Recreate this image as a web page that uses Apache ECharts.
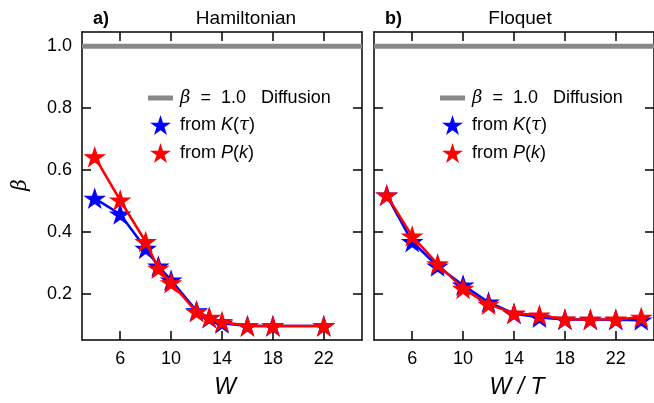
<!DOCTYPE html>
<html>
<head>
<meta charset="utf-8">
<script src="https://cdn.jsdelivr.net/npm/echarts@6/dist/echarts.min.js"></script>
<style>
html,body{margin:0;padding:0;background:#fff;}
#chart{width:654px;height:403px;}
</style>
</head>
<body>
<div id="chart"></div>
<script>
// ---- data ----
const hamW = [4, 6, 8, 9, 10, 12, 13, 14, 16, 18, 22];
const hamK = [0.509, 0.458, 0.347, 0.290, 0.245, 0.146, 0.123, 0.106, 0.097, 0.097, 0.097];
const hamP = [0.643, 0.503, 0.369, 0.283, 0.236, 0.143, 0.125, 0.111, 0.097, 0.097, 0.097];
const floW = [4, 6, 8, 10, 12, 14, 16, 18, 20, 22, 24];
const floK = [0.519, 0.369, 0.290, 0.229, 0.174, 0.137, 0.125, 0.118, 0.118, 0.117, 0.116];
const floP = [0.519, 0.387, 0.297, 0.218, 0.167, 0.138, 0.132, 0.119, 0.118, 0.119, 0.125];
const diffusionBeta = 1.0;
const xTicks = [6, 10, 14, 18, 22];
const yTicks = [0.2, 0.4, 0.6, 0.8, 1.0];
const xMin = 3, xMax = 25;
const yMin = 0.052, yMax = 1.046;
const nameDiff = 'β = 1.0 Diffusion';
const nameK = 'from K(τ)';
const nameP = 'from P(k)';

const FONT = 'Liberation Sans, Arial, Helvetica, sans-serif';
const STAR = 'path://M50,0 L61.23,34.55 L97.55,34.55 L68.16,55.9 L79.39,90.45 L50,69.1 L20.61,90.45 L31.84,55.9 L2.45,34.55 L38.77,34.55 Z';
const BAR = 'path://M0,0 L25,0 L25,5 L0,5 Z';

function zip(xs, ys) { return xs.map((x, i) => [x, ys[i]]); }

const axisLine = { show: true, onZero: false, lineStyle: { color: '#000', width: 1.5 } };
function xAx(grid, pos, labels) {
  return {
    type: 'value', gridIndex: grid, position: pos, min: xMin, max: xMax,
    axisLine: axisLine,
    axisTick: { show: true, inside: true, length: 9, customValues: xTicks, lineStyle: { color: '#000', width: 1.5 } },
    axisLabel: { show: labels, customValues: xTicks, color: '#000', fontSize: 18, fontFamily: FONT, margin: 10 },
    splitLine: { show: false }
  };
}
function yAx(grid, pos, labels) {
  return {
    type: 'value', gridIndex: grid, position: pos, min: yMin, max: yMax,
    axisLine: axisLine,
    axisTick: { show: true, inside: true, length: 9, customValues: yTicks, lineStyle: { color: '#000', width: 1.5 } },
    axisLabel: { show: labels, customValues: yTicks, color: '#000', fontSize: 18, fontFamily: FONT, margin: 10,
      formatter: v => v.toFixed(1) },
    splitLine: { show: false }
  };
}

function starSeries(name, xi, yi, W, V, color, z) {
  return { name: name, type: 'line', xAxisIndex: xi, yAxisIndex: yi, data: zip(W, V),
    symbol: STAR, symbolSize: 19, symbolKeepAspect: true,
    itemStyle: { color: color, borderColor: color, borderWidth: 1.2 },
    lineStyle: { color: color, width: 2.5 }, z: z };
}

function seriesFor(xi, yi, W, K, P) {
  return [
    { name: nameDiff, type: 'line', xAxisIndex: xi, yAxisIndex: yi,
      data: [[xMin, diffusionBeta], [xMax, diffusionBeta]], symbol: 'none',
      itemStyle: { color: '#888888' }, lineStyle: { color: '#888888', width: 5 }, z: 2 },
    starSeries(nameK, xi, yi, W, K, '#0000ff', 3),
    starSeries(nameP, xi, yi, W, P, '#ff0000', 4)
  ];
}

function legendAt(left) {
  return {
    orient: 'vertical', left: left, top: 84, itemWidth: 25, itemHeight: 20, itemGap: 8,
    selectedMode: false,
    data: [
      { name: nameDiff, icon: BAR, itemStyle: { borderWidth: 0 } },
      { name: nameK, icon: STAR, itemStyle: { borderWidth: 0 } },
      { name: nameP, icon: STAR, itemStyle: { borderWidth: 0 } }
    ],
    formatter: function (n) {
      if (n === nameDiff) return '{g|β}  =  1.0   Diffusion';
      if (n === nameK) return 'from {i|K}({g|τ})';
      return 'from {i|P}({i|k})';
    },
    textStyle: {
      color: '#000', fontSize: 18, fontFamily: FONT, padding: [0, 0, 0, 2],
      rich: {
        i: { fontStyle: 'italic', fontSize: 18, fontFamily: FONT, color: '#000' },
        g: { fontStyle: 'italic', fontSize: 18, fontFamily: 'DejaVu Serif, serif', color: '#000' }
      }
    }
  };
}

const chart = echarts.init(document.getElementById('chart'), null, { renderer: 'canvas' });
chart.setOption({
  animation: false,
  backgroundColor: '#fff',
  grid: [
    { left: 82, top: 32, width: 280, height: 308 },
    { left: 374, top: 32, width: 280, height: 308 }
  ],
  xAxis: [xAx(0, 'bottom', true), xAx(0, 'top', false), xAx(1, 'bottom', true), xAx(1, 'top', false)],
  yAxis: [yAx(0, 'left', true), yAx(0, 'right', false), yAx(1, 'left', false), yAx(1, 'right', false)],
  legend: [legendAt(143), legendAt(435)],
  series: [].concat(seriesFor(0, 0, hamW, hamK, hamP), seriesFor(2, 2, floW, floK, floP)),
  graphic: [
    { type: 'text', x: 93, y: 19, style: { text: 'a)', fontSize: 18, fontWeight: 'bold', fontFamily: FONT, fill: '#000', textAlign: 'left', textVerticalAlign: 'middle' } },
    { type: 'text', x: 246, y: 19, style: { text: 'Hamiltonian', fontSize: 19, fontFamily: FONT, fill: '#000', textAlign: 'center', textVerticalAlign: 'middle' } },
    { type: 'text', x: 385, y: 19, style: { text: 'b)', fontSize: 18, fontWeight: 'bold', fontFamily: FONT, fill: '#000', textAlign: 'left', textVerticalAlign: 'middle' } },
    { type: 'text', x: 520, y: 19, style: { text: 'Floquet', fontSize: 19, fontFamily: FONT, fill: '#000', textAlign: 'center', textVerticalAlign: 'middle' } },
    { type: 'text', x: 225, y: 388, style: { text: 'W', fontSize: 23, fontStyle: 'italic', fontFamily: FONT, fill: '#000', textAlign: 'center', textVerticalAlign: 'middle' } },
    { type: 'text', x: 517, y: 388, style: { text: 'W / T', fontSize: 23, fontStyle: 'italic', fontFamily: FONT, fill: '#000', textAlign: 'center', textVerticalAlign: 'middle' } },
    { type: 'text', x: 21, y: 185, rotation: Math.PI / 2, style: { text: 'β', fontSize: 20, fontStyle: 'italic', fontFamily: 'DejaVu Serif, serif', fill: '#000', textAlign: 'center', textVerticalAlign: 'middle' } }
  ]
});
</script>
</body>
</html>
